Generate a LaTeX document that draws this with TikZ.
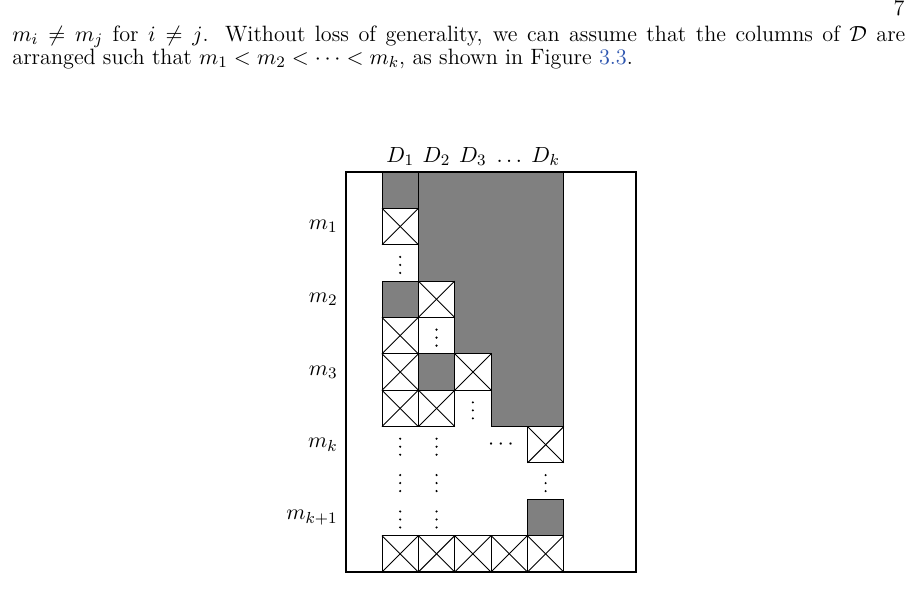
\documentclass[tikz,border=0pt]{standalone}
\usepackage{xcolor}
\definecolor{gfill}{RGB}{128,128,128}
\definecolor{linkblue}{RGB}{45,85,175}
\newcommand\cs{36.3636}
\newcommand\crosscell[2]{%
  \draw[cellline] ({382+(#1-1)*\cs},{172+#2*\cs}) rectangle ++(\cs,\cs);
  \draw[cellline] ({382+(#1-1)*\cs},{172+#2*\cs}) -- ++(\cs,\cs);
  \draw[cellline] ({382+#1*\cs},{172+#2*\cs}) -- ++(-\cs,\cs);}
\newcommand\graycell[2]{%
  \filldraw[cellline,fill=gfill] ({382+(#1-1)*\cs},{172+#2*\cs}) rectangle ++(\cs,\cs);}
\newcommand\vdotcell[2]{%
  \foreach \k in {-1,0,1}
    \fill[black] ({382+(#1-0.5)*\cs},{172+(#2+0.5)*\cs+2+8*\k}) circle[radius=0.6pt];}
\begin{document}
\begin{tikzpicture}[x=0.5pt,y=-0.5pt,
  font=\fontsize{11.1}{13.4}\selectfont,
  cellline/.style={draw=black,line width=0.45pt},
  frameline/.style={draw=black,line width=1.2pt},
  lbl/.style={inner sep=0pt,anchor=east},
  toplbl/.style={inner sep=0pt,anchor=base}]
\useasboundingbox (0,0) rectangle (915,589);
% text above
\node[anchor=base east,inner sep=0pt] (pagenum) at (905,15) {7};
\node[anchor=base west,inner sep=0pt] (line1) at (12,41)
  {\makebox[446.5pt][s]{$m_i \neq m_j$ for $i \neq j$. Without loss of generality, we can assume that the columns of $\mathcal{D}$ are}};
\node[anchor=base west,inner sep=0pt] (line2) at (12,64)
  {arranged such that $m_1 < m_2 < \cdots < m_k$, as shown in Figure \textcolor{linkblue}{3.3}.};
% gray region
\filldraw[cellline,fill=gfill] ({382+\cs},172) -- ({382+5*\cs},172) -- ({382+5*\cs},{172+7*\cs})
  -- ({382+3*\cs},{172+7*\cs}) -- ({382+3*\cs},{172+5*\cs}) -- ({382+2*\cs},{172+5*\cs})
  -- ({382+2*\cs},{172+3*\cs}) -- ({382+\cs},{172+3*\cs}) -- cycle;
% gray cells
\graycell{1}{0}
\graycell{1}{3}
\graycell{2}{5}
\graycell{5}{9}
% cross cells
\crosscell{1}{1}
\crosscell{2}{3}
\crosscell{1}{4}
\crosscell{1}{5}
\crosscell{3}{5}
\crosscell{1}{6}
\crosscell{2}{6}
\crosscell{5}{7}
\crosscell{1}{10}
\crosscell{2}{10}
\crosscell{3}{10}
\crosscell{4}{10}
\crosscell{5}{10}
% vertical dots
\vdotcell{1}{2}
\vdotcell{2}{4}
\vdotcell{3}{6}
\vdotcell{1}{7}
\vdotcell{2}{7}
\vdotcell{1}{8}
\vdotcell{2}{8}
\vdotcell{5}{8}
\vdotcell{1}{9}
\vdotcell{2}{9}
\node[inner sep=0pt] (hdots) at (501,{172+7.5*\cs}) {$\cdots$};
% frame
\draw[frameline] (346,172) rectangle (636,572);
% row labels
\node[lbl] (m1) at (338,{172+1.5*\cs}) {$m_1$};
\node[lbl] (m2) at (338,{172+3.5*\cs}) {$m_2$};
\node[lbl] (m3) at (338,{172+5.5*\cs}) {$m_3$};
\node[lbl] (mk) at (338,{172+7.5*\cs}) {$m_k$};
\node[lbl] (mk1) at (338,{172+9.5*\cs}) {$m_{k+1}$};
% column labels
\node[toplbl] (d1) at ({382+0.5*\cs},162) {$D_1$};
\node[toplbl] (d2) at ({382+1.5*\cs},162) {$D_2$};
\node[toplbl] (d3) at ({382+2.5*\cs},162) {$D_3$};
\node[toplbl] (dd) at ({382+3.5*\cs},162) {$\ldots$};
\node[toplbl] (dk) at ({382+4.5*\cs},162) {$D_k$};
\end{tikzpicture}
\end{document}
